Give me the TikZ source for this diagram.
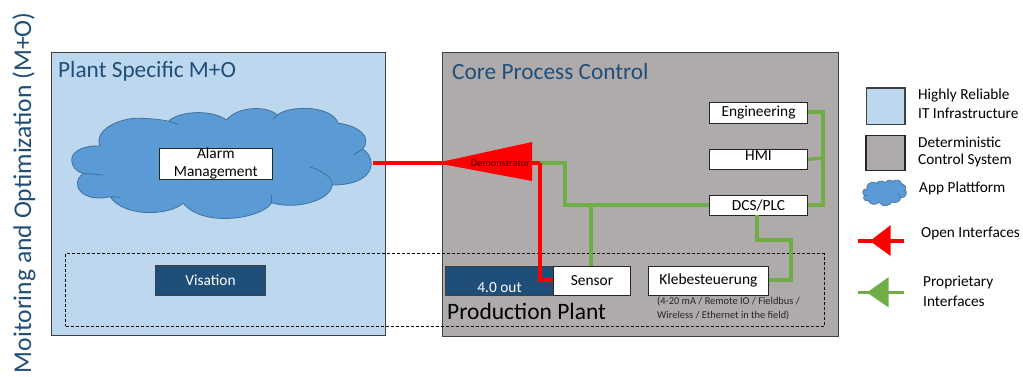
\documentclass[tikz,border=0pt]{standalone}
\usepackage{fontspec}
\setmainfont{Carlito}
\definecolor{itblue}{HTML}{BDD7EE}
\definecolor{ctlgray}{HTML}{AFABAB}
\definecolor{cloudfill}{HTML}{5B9BD5}
\definecolor{cloudline}{HTML}{41719C}
\definecolor{navy}{HTML}{1F4E79}
\definecolor{openred}{HTML}{FF0000}
\definecolor{propgreen}{HTML}{70AD47}
\newcommand{\fsz}[1]{\fontsize{#1}{#1}\selectfont}
\newcommand{\cloudshape}[1]{%
  \fill[cloudfill] (95,360) .. controls (95,330) and (140,315) .. (180,318)
    .. controls (160,270) and (240,232) .. (300,235)
    .. controls (330,235) and (365,240) .. (385,245)
    .. controls (410,215) and (510,205) .. (560,240)
    .. controls (590,200) and (680,195) .. (712,225)
    .. controls (750,195) and (875,195) .. (895,250)
    .. controls (950,255) and (1000,290) .. (968,327)
    .. controls (1012,355) and (1010,435) .. (877,435)
    .. controls (870,485) and (760,510) .. (695,488)
    .. controls (670,535) and (490,565) .. (430,490)
    .. controls (380,530) and (250,530) .. (210,470)
    .. controls (130,490) and (85,435) .. (130,400)
    .. controls (105,395) and (95,375) .. (95,360) -- cycle;
  \draw[cloudline,line width=#1,line join=round] (95,360) .. controls (95,330) and (140,315) .. (180,318)
    .. controls (160,270) and (240,232) .. (300,235)
    .. controls (330,235) and (395,240) .. (415,255)
    (385,245) .. controls (410,215) and (510,205) .. (560,240)
    .. controls (590,200) and (680,195) .. (712,225)
    (700,238) -- (712,225) .. controls (750,195) and (875,195) .. (895,250)
    .. controls (950,255) and (1000,290) .. (968,327) -- (940,345)
    (968,327) .. controls (1012,355) and (1010,435) .. (877,435)
    .. controls (878,410) and (840,390) .. (808,380)
    (877,435) .. controls (870,485) and (760,510) .. (695,488) -- (695,465)
    (695,488) .. controls (670,535) and (490,565) .. (430,490)
    .. controls (380,530) and (250,530) .. (210,470) -- (240,472)
    (210,470) .. controls (130,490) and (85,435) .. (130,400) -- (190,405)
    (130,400) .. controls (105,395) and (95,375) .. (95,360);
}
\tikzset{
  zone/.style={draw=#1,line width=1.25pt,anchor=north west,inner sep=0pt},
  whitebox/.style={draw=black!85,fill=white,line width=1.1pt,inner sep=0pt,anchor=north west,font=\fsz{15.4}},
  navybox/.style={draw=black!75,fill=navy,text=white,line width=1.1pt,inner sep=0pt,anchor=north west,font=\fsz{15.4}},
  title/.style={text=navy,anchor=west,inner sep=0pt,font=\fsz{23.3}},
  legendtext/.style={anchor=west,inner sep=0pt,font=\fsz{15.3}},
  openline/.style={draw=openred,line width=3.6pt,line join=miter},
  propline/.style={draw=propgreen,line width=3.2pt,line join=miter},
}
\begin{document}
\begin{tikzpicture}[x=1pt,y=-1pt]
\useasboundingbox (0,0) rectangle (1023,376);
% zones
\node[zone=black!75,fill=itblue,minimum width=334pt,minimum height=283pt] (plant) at (51,52) {};
\node[zone=black!75,fill=ctlgray,minimum width=396pt,minimum height=284pt] (core) at (442,52) {};
\node[title] (planttitle) at (58,71) {Plant Specific M+O};
\node[title] (coretitle) at (452,71) {Core Process Control};
\node[title,rotate=90,anchor=east,font=\fsz{25.6}] (side) at (24,12) {Moitoring and Optimization (M+O)};
% dashed production area
\node[draw=black,dash pattern=on 3pt off 2pt,line width=1pt,anchor=north west,inner sep=0pt,minimum width=758.5pt,minimum height=72.5pt] (prod) at (65,253) {};
\node[anchor=west,inner sep=0pt,font=\fsz{23.5}] (prodlabel) at (447,311) {Production Plant};
% cloud
\begin{scope}[xshift=40pt,yshift=-40pt,x=.3333pt,y=-.3333pt]
\cloudshape{.8pt}
\end{scope}
\coordinate (cloudout) at (373,163);
% boxes
\node[whitebox,minimum width=112.5pt,minimum height=31.5pt] (alarm) at (159,147.5)
  {\smash{\raisebox{-4pt}{\begin{tabular}{@{}c@{}}Alarm\\[2.5pt]Management\end{tabular}}}};
\node[navybox,minimum width=110pt,minimum height=30pt] (visation) at (155,265) {Visation};
\node[whitebox,minimum width=98pt,minimum height=20.5pt] (eng) at (709,102) {Engineering};
\node[whitebox,minimum width=98pt,minimum height=19.5pt] (hmi) at (709,149) {\raisebox{-1pt}[0pt][0pt]{HMI}};
\node[whitebox,minimum width=98pt,minimum height=20pt] (dcs) at (709,195) {DCS/PLC};
\node[navybox,minimum width=108pt,minimum height=29.5pt] (out) at (445,265.5)
  {\raisebox{-12pt}[0pt][0pt]{4.0 out}};
\node[whitebox,minimum width=77.5pt,minimum height=29.5pt] (sensor) at (552.7,265.5) {Sensor};
\node[whitebox,minimum width=119.5pt,minimum height=29.5pt] (klebe) at (648,265.5) {Klebesteuerung};
\node[anchor=north west,inner sep=0pt,text=black!85,font=\fsz{10.4},align=left] (fieldnote) at (657,297)
  {(4-20 mA / Remote IO / Fieldbus /\\[3pt]Wireless / Ethernet in the field)};
% connectors
\coordinate (demotip) at (436,163);
\coordinate (demotop) at (532,142);
\coordinate (demobot) at (532,181);
\coordinate (demoout) at (540,163);
\coordinate (proutejoin) at (591,205);
\coordinate (busright) at (823,205);
\draw[propline] (demoout) -- (565,163) -- (565,205) -- (dcs.west |- proutejoin);
\draw[propline] (proutejoin) -- (sensor.north -| proutejoin);
\draw[propline] (dcs.east |- busright) -- (busright) -- (823,112) -- (eng.east |- 0,112);
\draw[propline] (hmi.east) -- (823,158);
\draw[propline] (757,215) -- (757,240) -- (791,240) -- (791,280) -- (klebe.east |- 0,280);
\fill[openred] (demotip) -- (demotop) -- (demobot) -- cycle;
\draw[openline] (cloudout) -- (demotip) -- (demoout);
\draw[openline] (demoout) -- (540,280) -- (sensor.west |- 0,280);
\node[inner sep=0pt,text=black!80!red,font=\fsz{10.4}] (demo) at (500.5,163) {Demonstrator};
% legend
\node[zone=black!75,fill=itblue,line width=1.5pt,minimum width=38.5pt,minimum height=36.5pt] (legit) at (865.5,87) {};
\node[zone=black!85,fill=ctlgray,line width=1.5pt,minimum width=39pt,minimum height=35pt] (legctl) at (865,134.5) {};
\begin{scope}[xshift=858.1pt,yshift=-164pt,x=.0486pt,y=-.078pt]
\cloudshape{.6pt}
\end{scope}
\node[legendtext] (t1a) at (918,95) {Highly Reliable};
\node[legendtext] (t1b) at (918,113.5) {IT Infrastructure};
\node[legendtext] (t2a) at (918,142) {Deterministic};
\node[legendtext] (t2b) at (918,160.5) {Control System};
\node[legendtext] (t3) at (919,188.5) {App Plattform};
\node[legendtext] (t4) at (921,233.5) {Open Interfaces};
\node[legendtext] (t5a) at (923,282.5) {Proprietary};
\node[legendtext] (t5b) at (923,301) {Interfaces};
\coordinate (ro1) at (858,241);
\coordinate (ro2) at (904,241);
\coordinate (go1) at (858,292.5);
\coordinate (go2) at (904,292.5);
\draw[openline] (ro1) -- (ro2);
\fill[openred] (870,241) -- (890.7,225) -- (890.7,256) -- cycle;
\draw[propline] (go1) -- (go2);
\fill[propgreen] (867,292.5) -- (888.7,277) -- (888.7,307.5) -- cycle;
\end{tikzpicture}
\end{document}
